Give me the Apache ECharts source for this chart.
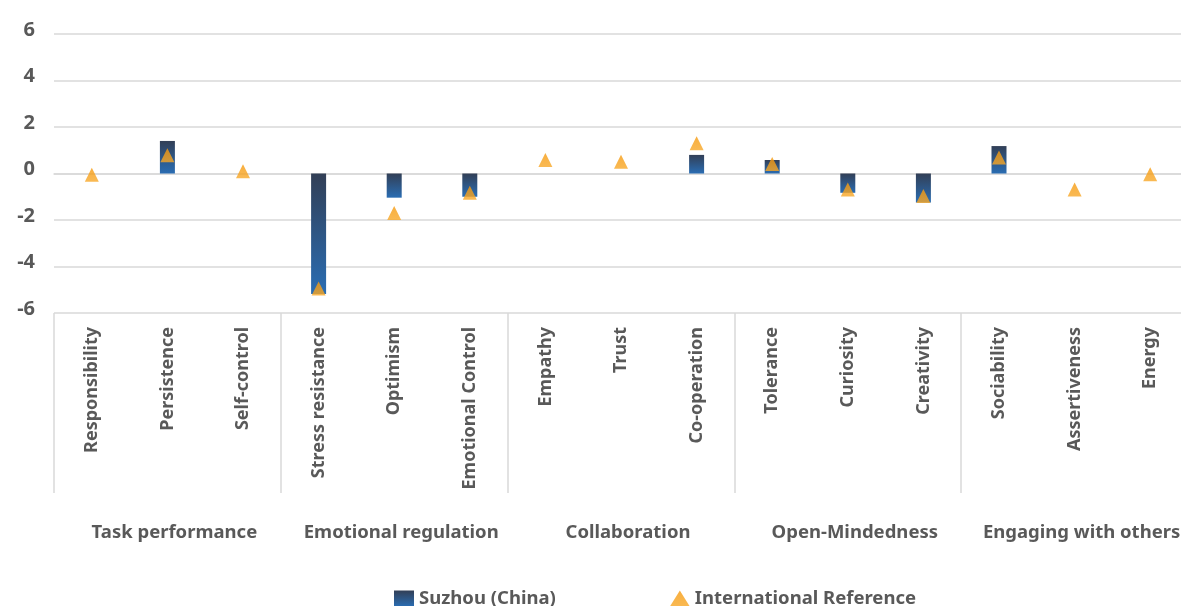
<!DOCTYPE html>
<html>
<head>
<meta charset="utf-8">
<script src="https://cdn.jsdelivr.net/npm/echarts@6/dist/echarts.min.js"></script>
<style>
html,body{margin:0;padding:0;background:#fff;}
#c{width:1181px;height:606px;}
</style>
</head>
<body>
<div id="c"></div>
<script>
const categories = ["Responsibility","Persistence","Self-control","Stress resistance","Optimism","Emotional Control","Empathy","Trust","Co-operation","Tolerance","Curiosity","Creativity","Sociability","Assertiveness","Energy"];
const groups = ["Task performance","Emotional regulation","Collaboration","Open-Mindedness","Engaging with others"];
const suzhou = [null, 1.4, null, -5.18, -1.04, -1.0, null, null, 0.8, 0.58, -0.83, -1.25, 1.18, null, null];
const international = [-0.05, 0.78, 0.1, -4.95, -1.7, -0.83, 0.58, 0.51, 1.3, 0.41, -0.69, -0.97, 0.69, -0.69, -0.03];
const yTicks = {min: -6, max: 6, interval: 2};

const FONT = "'Noto Sans', 'Open Sans', sans-serif";
const GRAY = '#595959';
const chart = echarts.init(document.getElementById('c'));
chart.setOption({
  animation: false,
  textStyle: {fontFamily: FONT},
  grid: {left: 54, right: -7, top: 34, bottom: 293, outerBoundsMode: 'none', containLabel: false},
  legend: {
    left: 389, top: 584, itemGap: 114, itemWidth: 20, itemHeight: 16,
    textStyle: {fontFamily: FONT, fontWeight: 'bold', fontSize: 18.5, color: GRAY},
    data: [{name: 'Suzhou (China)', icon: 'rect'}, {name: 'International Reference', icon: 'triangle'}]
  },
  xAxis: [
    {
      type: 'category', data: categories, position: 'bottom',
      axisLine: {show: true, lineStyle: {color: '#d9d9d9', width: 1.5}},
      axisTick: {show: false},
      axisLabel: {rotate: 90, margin: 14, interval: 0, fontFamily: FONT, fontWeight: 'bold', fontSize: 18, color: GRAY}
    },
    {
      type: 'category', data: groups, position: 'bottom',
      axisLine: {show: false},
      axisTick: {show: true, length: 180, interval: 0, lineStyle: {color: '#d9d9d9', width: 1.5}},
      axisLabel: {margin: 210, interval: 0, padding: [0, 0, 0, 14], fontFamily: FONT, fontWeight: 'bold', fontSize: 18.5, color: GRAY}
    }
  ],
  yAxis: {
    type: 'value', min: yTicks.min, max: yTicks.max, interval: yTicks.interval,
    axisLine: {show: false}, axisTick: {show: false},
    splitLine: {lineStyle: {color: '#d9d9d9', width: 1.5}},
    axisLabel: {margin: 19, verticalAlign: 'bottom', lineHeight: 8, fontFamily: FONT, fontWeight: 'bold', fontSize: 20, color: GRAY}
  },
  series: [
    {
      name: 'Suzhou (China)', type: 'bar', xAxisIndex: 0, data: suzhou, barWidth: 15,
      itemStyle: {color: new echarts.graphic.LinearGradient(0, 0, 0, 1, [
        {offset: 0, color: '#323f56'}, {offset: 1, color: '#2a6db3'}
      ])}
    },
    {
      name: 'International Reference', type: 'scatter', xAxisIndex: 0, data: international,
      symbol: 'triangle', symbolSize: 14, z: 5,
      itemStyle: {color: new echarts.graphic.LinearGradient(0, 0, 0, 1, [
        {offset: 0, color: '#f69a0e'}, {offset: 1, color: '#f8a828'}
      ])}
    }
  ]
});
</script>
</body>
</html>
